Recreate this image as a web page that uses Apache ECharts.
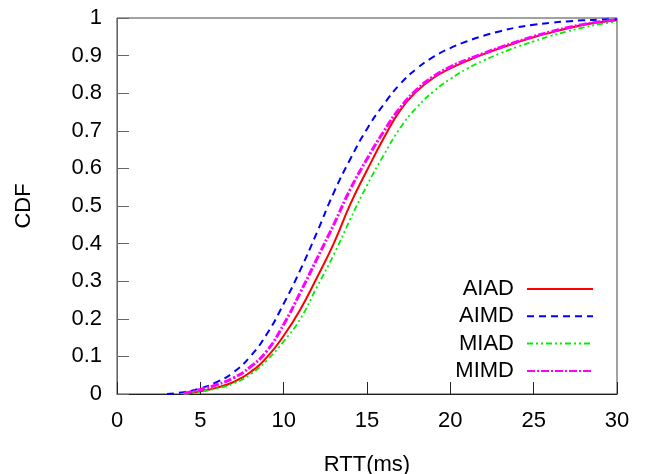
<!DOCTYPE html>
<html>
<head>
    <meta charset="UTF-8" />
    <title>RTT CDF</title>
    <script src="https://cdn.jsdelivr.net/npm/echarts@6/dist/echarts.min.js"></script>
    <style>
        html, body { margin: 0; padding: 0; background: #fff; }
        #chart { width: 650px; height: 474px; }
    </style>
</head>
<body>
<div id="chart"></div>
<script type="text/javascript">
    // RTT (ms) sample points, shared by every curve
    var rtt = [3, 4, 5, 6, 7, 8, 9, 10, 11, 12, 13, 14, 15, 16, 17, 18, 19, 20, 21, 22, 23, 24, 25, 26, 27, 28, 29, 30];
    // CDF (null = curve not started yet)
    var aiad = [null, 0, 0.007, 0.017, 0.032, 0.058, 0.098, 0.155, 0.225, 0.31, 0.4, 0.505, 0.595, 0.68, 0.755, 0.806, 0.841, 0.866, 0.886, 0.904, 0.92, 0.935, 0.949, 0.961, 0.972, 0.982, 0.989, 0.994];
    var aimd = [0, 0.005, 0.015, 0.032, 0.058, 0.1, 0.16, 0.24, 0.33, 0.43, 0.535, 0.625, 0.705, 0.77, 0.825, 0.866, 0.897, 0.92, 0.938, 0.953, 0.965, 0.975, 0.982, 0.987, 0.991, 0.994, 0.996, 0.997];
    var miad = [null, 0, 0.006, 0.015, 0.028, 0.052, 0.09, 0.14, 0.2, 0.285, 0.37, 0.465, 0.555, 0.635, 0.708, 0.763, 0.805, 0.838, 0.865, 0.887, 0.906, 0.923, 0.938, 0.952, 0.964, 0.975, 0.984, 0.99];
    var mimd = [null, 0.002, 0.012, 0.025, 0.043, 0.072, 0.115, 0.185, 0.27, 0.36, 0.45, 0.545, 0.625, 0.698, 0.762, 0.81, 0.845, 0.87, 0.889, 0.906, 0.922, 0.937, 0.951, 0.963, 0.974, 0.983, 0.99, 0.995];

    function pairs(ys) {
        var out = [];
        for (var i = 0; i < rtt.length; i++) {
            if (ys[i] !== null) out.push([rtt[i], ys[i]]);
        }
        return out;
    }

    var font = 'Liberation Sans';
    var chart = echarts.init(document.getElementById('chart'));

    function curve(name, ys, color, width, dash) {
        return {
            name: name,
            type: 'line',
            data: pairs(ys),
            smooth: 0.5,
            symbol: 'none',
            showSymbol: false,
            animation: false,
            lineStyle: { color: color, width: width, type: dash },
            itemStyle: { color: color }
        };
    }

    var option = {
        backgroundColor: '#fff',
        animation: false,
        grid: {
            left: 117, right: 33, top: 18, bottom: 80,
            outerBoundsMode: 'none',
            containLabel: false,
            show: true, borderColor: '#444', borderWidth: 1
        },
        legend: {
            orient: 'vertical',
            align: 'right',
            right: 51,
            top: 273,
            itemWidth: 66,
            itemHeight: 14,
            itemGap: 5.3,
            itemStyle: { opacity: 0 },
            textStyle: { fontFamily: font, fontSize: 22, color: '#000', lineHeight: 21, padding: [0, 8, 0, 0] },
            data: ['AIAD', 'AIMD', 'MIAD', 'MIMD']
        },
        xAxis: {
            type: 'value',
            min: 0, max: 30, interval: 5,
            name: 'RTT(ms)',
            nameLocation: 'middle',
            nameGap: 60,
            nameTextStyle: { fontFamily: font, fontSize: 22, color: '#000' },
            axisLine: { lineStyle: { color: '#222', width: 1 } },
            axisTick: { inside: true, length: 12, lineStyle: { color: '#222' } },
            axisLabel: { fontFamily: font, fontSize: 22, color: '#000', margin: 16 },
            splitLine: { show: false }
        },
        yAxis: {
            type: 'value',
            min: 0, max: 1, interval: 0.1,
            name: 'CDF',
            nameLocation: 'middle',
            nameGap: 82,
            nameRotate: 90,
            nameTextStyle: { fontFamily: font, fontSize: 22, color: '#000' },
            axisLine: { show: true, lineStyle: { color: '#666', width: 1 } },
            axisTick: { inside: true, length: 12, lineStyle: { color: '#666' } },
            axisLabel: {
                fontFamily: font, fontSize: 22, color: '#000', margin: 15,
                formatter: function (v) { return String(Math.round(v * 10) / 10); }
            },
            splitLine: { show: false }
        },
        series: [
            curve('AIAD', aiad, '#ff0000', 2, 'solid'),
            curve('AIMD', aimd, '#0000ff', 2, [7, 5]),
            curve('MIAD', miad, '#00ee00', 1.8, [6, 3, 2, 3, 2, 3]),
            curve('MIMD', mimd, '#ff00ff', 3, [8, 2, 2, 2])
        ]
    };
    chart.setOption(option);
</script>
</body>
</html>
